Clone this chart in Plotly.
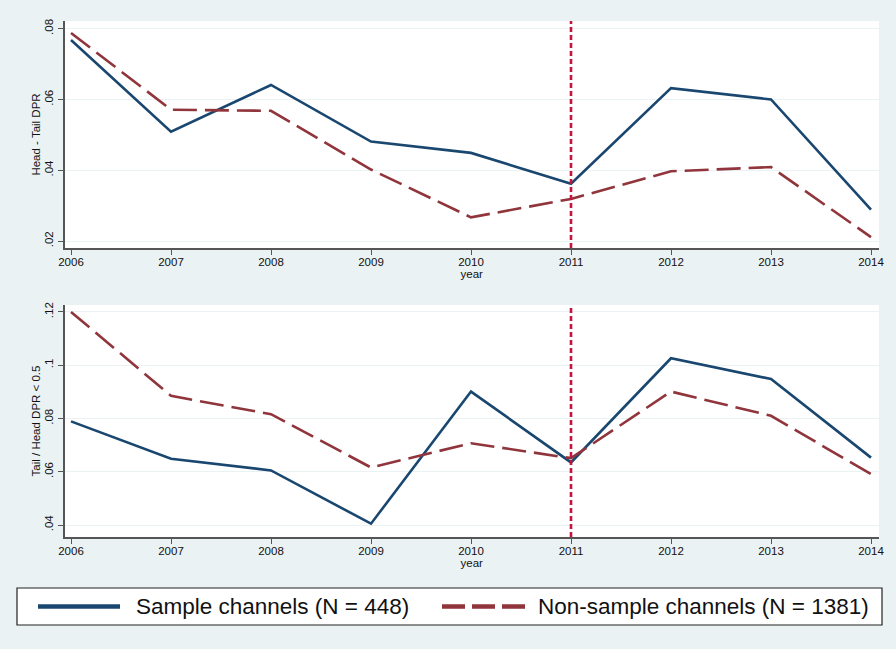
import plotly.graph_objects as go

# Yearly DPR statistics for sample vs. non-sample channels
years = [2006, 2007, 2008, 2009, 2010, 2011, 2012, 2013, 2014]

head_tail_sample = [0.0768, 0.0509, 0.0641, 0.0481, 0.0449, 0.0362, 0.0632, 0.0600, 0.0289]
head_tail_nonsample = [0.0788, 0.0571, 0.0568, 0.0402, 0.0267, 0.0319, 0.0397, 0.0409, 0.0211]

tail_head_sample = [0.0789, 0.0649, 0.0605, 0.0405, 0.0901, 0.0635, 0.1026, 0.0948, 0.0653]
tail_head_nonsample = [0.1200, 0.0885, 0.0816, 0.0616, 0.0707, 0.0651, 0.0901, 0.0810, 0.0591]

event_year = 2011

top_ticks = [0.02, 0.04, 0.06, 0.08]
top_tick_text = [".02", ".04", ".06", ".08"]
bottom_ticks = [0.04, 0.06, 0.08, 0.10, 0.12]
bottom_tick_text = [".04", ".06", ".08", ".1", ".12"]

series_names = ["Sample channels (N = 448)", "Non-sample channels (N = 1381)"]

W, H = 896, 649
BG = "#eaf2f3"
BLUE = "#1a476f"
RED = "#90353b"
VLINE = "#c8123c"
AXIS = "#555555"
FONT = "Liberation Sans, Arial, sans-serif"


def px_x(p):
    return p / W


def px_y(p):
    return 1 - p / H


fig = go.Figure()

panels = [
    ("x", "y", head_tail_sample, head_tail_nonsample),
    ("x2", "y2", tail_head_sample, tail_head_nonsample),
]
for xa, ya, s, ns in panels:
    fig.add_trace(go.Scatter(x=years, y=s, mode="lines", name=series_names[0],
                             line=dict(color=BLUE, width=2.6),
                             xaxis=xa, yaxis=ya, showlegend=False))
    fig.add_trace(go.Scatter(x=years, y=ns, mode="lines", name=series_names[1],
                             line=dict(color=RED, width=2.6, dash="24px,8px"),
                             xaxis=xa, yaxis=ya, showlegend=False))

xdom = [px_x(64.5), px_x(879)]
xaxis_common = dict(
    domain=xdom, range=[2005.935, 2014.08], tickmode="array", tickvals=years,
    automargin=False,
    showgrid=False, zeroline=False, showline=True, linecolor=AXIS, linewidth=1.6,
    ticks="outside", ticklen=5, tickcolor=AXIS, tickwidth=1, ticklabelstandoff=-3,
    tickfont=dict(family=FONT, size=11.5, color="#111111"),
    title=dict(text="year", font=dict(family=FONT, size=11.5, color="#111111"), standoff=0),
)
yaxis_common = dict(
    automargin=False,
    showgrid=True, gridcolor=BG, gridwidth=1.2, zeroline=False,
    showline=True, linecolor=AXIS, linewidth=1.6,
    ticks="outside", ticklen=5, tickcolor=AXIS, tickwidth=1, tickangle=-90,
    tickfont=dict(family=FONT, size=11.5, color="#111111"),
    tickmode="array",
)

fig.update_layout(
    width=W, height=H,
    margin=dict(l=0, r=0, t=0, b=0),
    paper_bgcolor=BG, plot_bgcolor="white",
    showlegend=False,
    xaxis=dict(xaxis_common, anchor="y"),
    xaxis2=dict(xaxis_common, anchor="y2"),
    yaxis=dict(yaxis_common, anchor="x",
               domain=[px_y(248), px_y(21)], range=[0.01803, 0.08217],
               tickvals=top_ticks, ticktext=top_tick_text,
               title=dict(text="Head - Tail DPR", standoff=0,
                          font=dict(family=FONT, size=11.5, color="#111111"))),
    yaxis2=dict(yaxis_common, anchor="x2",
                domain=[px_y(537), px_y(305)], range=[0.0355, 0.1226],
                tickvals=bottom_ticks, ticktext=bottom_tick_text,
                title=dict(text="Tail / Head DPR < 0.5", standoff=0,
                           font=dict(family=FONT, size=11.5, color="#111111"))),
)

# Vertical reference line at the event year in both panels
for xr, yr in [("x", "y domain"), ("x2", "y2 domain")]:
    fig.add_shape(type="line", xref=xr, yref=yr, x0=event_year, x1=event_year,
                  y0=0, y1=1, line=dict(color=VLINE, width=2.6, dash="5px,3px"))

# Legend box
fig.add_shape(type="rect", xref="paper", yref="paper",
              x0=px_x(17), x1=px_x(882), y0=px_y(625), y1=px_y(588),
              line=dict(color="#222222", width=1.2), fillcolor="white")
ly = px_y(606.5)
fig.add_shape(type="line", xref="paper", yref="paper",
              x0=px_x(38), x1=px_x(120), y0=ly, y1=ly,
              line=dict(color=BLUE, width=4.5))
fig.add_shape(type="line", xref="paper", yref="paper",
              x0=px_x(442), x1=px_x(525), y0=ly, y1=ly,
              line=dict(color=RED, width=4.5, dash="23px,7px"))
for name, xpos in zip(series_names, [134, 536]):
    fig.add_annotation(xref="paper", yref="paper", x=px_x(xpos), y=ly,
                       xanchor="left", yanchor="middle", showarrow=False,
                       text=name, font=dict(family=FONT, size=22.5, color="#111111"))

fig.write_html("out.html")
